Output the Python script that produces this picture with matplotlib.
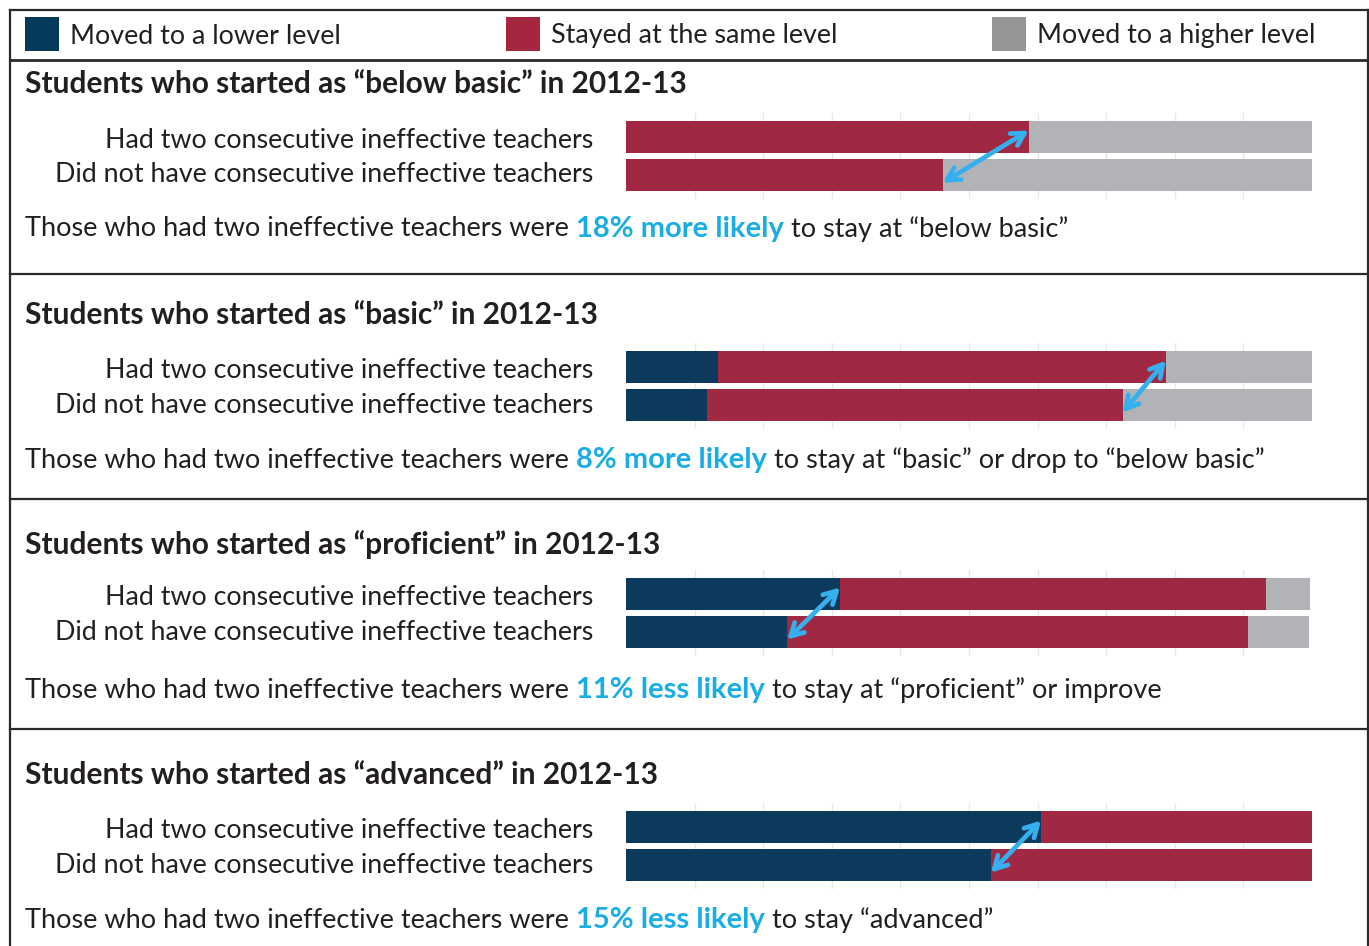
import matplotlib
matplotlib.use("Agg")
import matplotlib.pyplot as plt
from matplotlib.lines import Line2D
from matplotlib.patches import Rectangle

# ── Data ───────────────────────────────────────────────────────────────────
legend_labels = ["Moved to a lower level", "Stayed at the same level", "Moved to a higher level"]
row_labels = ["Had two consecutive ineffective teachers",
              "Did not have consecutive ineffective teachers"]

panel_titles = [
    "Students who started as \u201cbelow basic\u201d in 2012-13",
    "Students who started as \u201cbasic\u201d in 2012-13",
    "Students who started as \u201cproficient\u201d in 2012-13",
    "Students who started as \u201cadvanced\u201d in 2012-13",
]

# percent of students, [had two ineffective, did not]
lower = [[0.0, 0.0], [13.4, 11.8], [31.2, 23.5], [60.5, 53.2]]
same = [[58.7, 46.2], [65.3, 60.6], [62.1, 67.2], [39.5, 46.8]]
higher = [[41.3, 53.8], [21.3, 27.6], [6.4, 8.9], [0.0, 0.0]]

# boundary the arrow points at: 0 = lower|same, 1 = same|higher
arrow_edge = [1, 1, 0, 0]

summary_pre = "Those who had two ineffective teachers were "
summary_hl = ["18% more likely", "8% more likely", "11% less likely", "15% less likely"]
summary_post = [
    " to stay at \u201cbelow basic\u201d",
    " to stay at \u201cbasic\u201d or drop to \u201cbelow basic\u201d",
    " to stay at \u201cproficient\u201d or improve",
    " to stay \u201cadvanced\u201d",
]

# ── Style ──────────────────────────────────────────────────────────────────
NAVY = "#0B3A5C"
RED = "#A12842"
GRAY = "#B2B3B6"
LEG_COLORS = ["#053A5B", "#A4263F", "#959595"]
HL = "#1AADE4"
ARROW = "#36AFEF"
INK = "#231F20"
FRAME = "#2A2A2A"

plt.rcParams["font.family"] = ["Lato", "DejaVu Sans"]

W, H = 1369, 946
fig = plt.figure(figsize=(W / 100, H / 100), dpi=100)
renderer = fig.canvas.get_renderer()


def fx(x):
    return x / W


def fy(y):
    return 1 - y / H


def hline(y, x0=10, x1=W, lw=1.6):
    fig.add_artist(Line2D([fx(x0), fx(x1)], [fy(y), fy(y)], transform=fig.transFigure,
                          color=FRAME, lw=lw))


def runs(x, y, pieces):
    """Draw consecutive text pieces on one line."""
    for text, color, weight, size in pieces:
        t = fig.text(fx(x), fy(y), text, color=color, fontsize=size,
                     fontweight=weight, ha="left", va="center")
        x += t.get_window_extent(renderer).width


# ── Frame ──────────────────────────────────────────────────────────────────
hline(10)
hline(60, lw=2.0)
for y in [274, 499, 729]:
    hline(y)
fig.add_artist(Line2D([fx(10), fx(10)], [fy(10), fy(946)], transform=fig.transFigure,
                      color=FRAME, lw=1.6))
fig.add_artist(Line2D([fx(1368), fx(1368)], [fy(10), fy(946)], transform=fig.transFigure,
                      color=FRAME, lw=1.6))

# ── Legend ─────────────────────────────────────────────────────────────────
for lx, label, col in zip([25, 506, 992], legend_labels, LEG_COLORS):
    fig.add_artist(Rectangle((fx(lx), fy(51)), 34 / W, 34 / H, transform=fig.transFigure,
                             facecolor=col, edgecolor="none"))
    fig.text(fx(lx + 45), fy(36), label, fontsize=19.4, color=INK, ha="left", va="center")

# ── Panels ─────────────────────────────────────────────────────────────────
title_y = [84, 315, 545, 775]
bar_top = [121, 351, 578, 811]
summary_y = [229, 460, 690, 920]

BAR_X0, BAR_X1 = 626, 1312
ROW_STEP = 38
BAR_H = 32 / ROW_STEP
PAD = 8

for i in range(4):
    fig.text(fx(25), fy(title_y[i]), panel_titles[i], fontsize=21.5, fontweight="bold",
             color=INK, ha="left", va="center")

    c0 = bar_top[i] + 16
    for r, lab in enumerate(row_labels):
        fig.text(fx(593), fy(c0 + r * 35 + 3), lab, fontsize=19.3, color=INK,
                 ha="right", va="center")

    top_px = bar_top[i] - PAD
    bot_px = bar_top[i] + 32 + ROW_STEP + PAD
    ax = fig.add_axes([fx(BAR_X0), fy(bot_px), (BAR_X1 - BAR_X0) / W, (bot_px - top_px) / H])
    ax.set_xlim(0, 100)
    lim = (BAR_H / 2 + PAD / ROW_STEP)
    ax.set_ylim(1 + lim, -lim)

    ys = [0, 1]
    lo = lower[i]
    sa = same[i]
    hi = higher[i]
    ax.barh(ys, lo, height=BAR_H, color=NAVY, zorder=2)
    ax.barh(ys, sa, left=lo, height=BAR_H, color=RED, zorder=2)
    ax.barh(ys, hi, left=[a + b for a, b in zip(lo, sa)], height=BAR_H, color=GRAY, zorder=2)

    ax.set_xticks(range(10, 100, 10))
    ax.grid(axis="x", color="#E8E8E8", lw=1.0, zorder=0)
    ax.tick_params(length=0, labelbottom=False, labelleft=False)
    ax.set_yticks([])
    for s in ax.spines.values():
        s.set_visible(False)

    if arrow_edge[i] == 1:
        e_top = lo[0] + sa[0]
        e_bot = lo[1] + sa[1]
    else:
        e_top = lo[0]
        e_bot = lo[1]
    ax.annotate("", xy=(e_top, -0.17), xytext=(e_bot, 1.2),
                arrowprops=dict(arrowstyle="<->,head_length=0.9,head_width=0.5",
                                color=ARROW, lw=3.4, shrinkA=0, shrinkB=0,
                                capstyle="round", joinstyle="round"),
                zorder=5)

    runs(25, summary_y[i], [(summary_pre, INK, "normal", 19.5),
                            (summary_hl[i], HL, "bold", 21),
                            (summary_post[i], INK, "normal", 19.5)])

fig.savefig("out.png", dpi=100, facecolor="white")
